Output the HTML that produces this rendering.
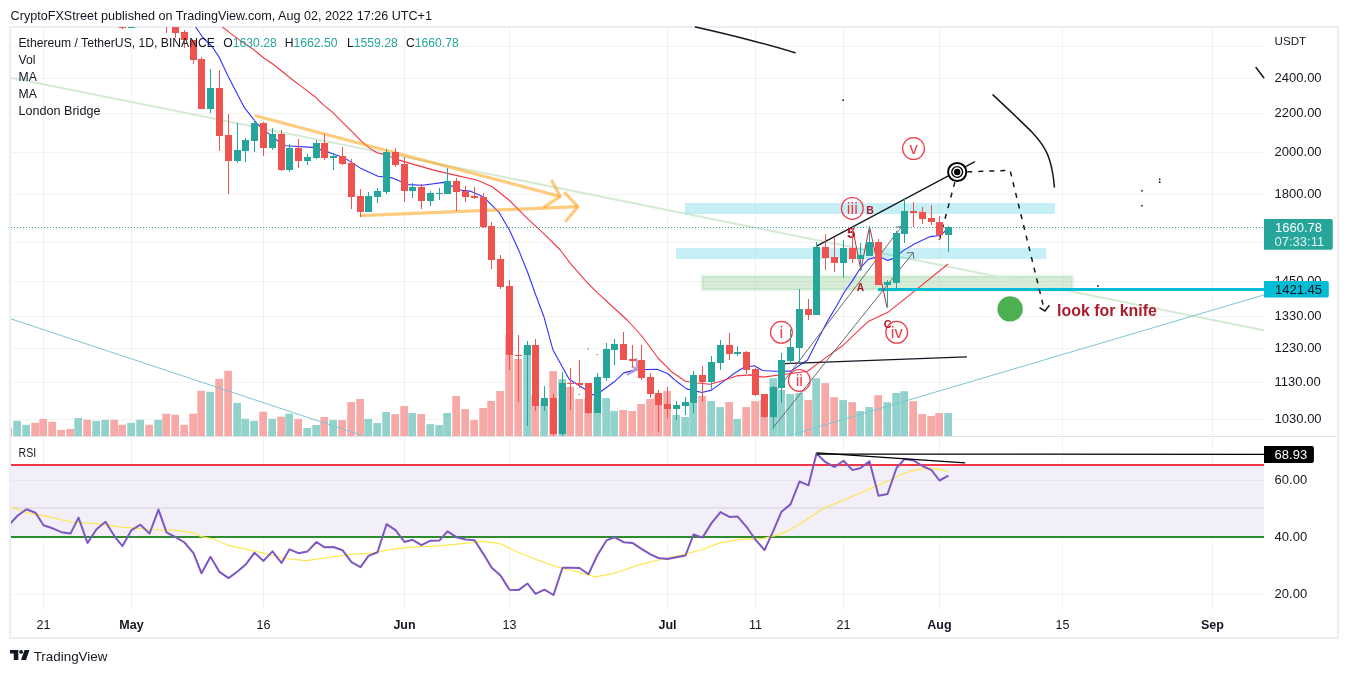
<!DOCTYPE html>
<html><head><meta charset="utf-8"><title>ETH/USDT chart</title><style>
html,body{margin:0;padding:0;background:#fff;width:1348px;height:673px;overflow:hidden}
svg{position:absolute;left:0;top:0;display:block;will-change:transform}
text{font-family:"Liberation Sans",sans-serif}
</style></head><body>
<svg width="1348" height="673" viewBox="0 0 1348 673">
<defs>
<clipPath id="main"><rect x="11" y="27" width="1253" height="409"/></clipPath>
<clipPath id="rsi"><rect x="11" y="437" width="1253" height="172"/></clipPath>
</defs>

<text x="10.6" y="20" font-size="12.6" fill="#131722" textLength="421.4" lengthAdjust="spacingAndGlyphs">CryptoFXStreet published on TradingView.com, Aug 02, 2022 17:26 UTC+1</text>
<rect x="10" y="27" width="1328" height="611" fill="none" stroke="#eceef2" stroke-width="2"/>
<g shape-rendering="crispEdges"><rect x="43" y="28" width="1" height="582" fill="rgba(42,46,57,0.06)"/><rect x="131" y="28" width="1" height="582" fill="rgba(42,46,57,0.06)"/><rect x="263" y="28" width="1" height="582" fill="rgba(42,46,57,0.06)"/><rect x="404" y="28" width="1" height="582" fill="rgba(42,46,57,0.06)"/><rect x="509" y="28" width="1" height="582" fill="rgba(42,46,57,0.06)"/><rect x="667" y="28" width="1" height="582" fill="rgba(42,46,57,0.06)"/><rect x="755" y="28" width="1" height="582" fill="rgba(42,46,57,0.06)"/><rect x="843" y="28" width="1" height="582" fill="rgba(42,46,57,0.06)"/><rect x="939" y="28" width="1" height="582" fill="rgba(42,46,57,0.06)"/><rect x="1062" y="28" width="1" height="582" fill="rgba(42,46,57,0.06)"/><rect x="1212" y="28" width="1" height="582" fill="rgba(42,46,57,0.06)"/><rect x="11" y="46" width="1253" height="1" fill="rgba(42,46,57,0.06)"/><rect x="11" y="78" width="1253" height="1" fill="rgba(42,46,57,0.06)"/><rect x="11" y="113" width="1253" height="1" fill="rgba(42,46,57,0.06)"/><rect x="11" y="152" width="1253" height="1" fill="rgba(42,46,57,0.06)"/><rect x="11" y="194" width="1253" height="1" fill="rgba(42,46,57,0.06)"/><rect x="11" y="242" width="1253" height="1" fill="rgba(42,46,57,0.06)"/><rect x="11" y="281" width="1253" height="1" fill="rgba(42,46,57,0.06)"/><rect x="11" y="316" width="1253" height="1" fill="rgba(42,46,57,0.06)"/><rect x="11" y="348" width="1253" height="1" fill="rgba(42,46,57,0.06)"/><rect x="11" y="382" width="1253" height="1" fill="rgba(42,46,57,0.06)"/><rect x="11" y="419" width="1253" height="1" fill="rgba(42,46,57,0.06)"/><rect x="11" y="480" width="1253" height="1" fill="rgba(42,46,57,0.06)"/><rect x="11" y="594" width="1253" height="1" fill="rgba(42,46,57,0.06)"/></g>
<rect x="11" y="436" width="1326" height="1" fill="#e1e3ec" shape-rendering="crispEdges"/>
<rect x="11" y="465" width="1253" height="72" fill="#f2eff9" shape-rendering="crispEdges"/>
<rect x="11" y="507" width="1253" height="1.8" fill="#e2dfe9"/>
<rect x="11" y="480" width="1253" height="1" fill="#e9e6f0" shape-rendering="crispEdges"/>
<g clip-path="url(#main)"><rect x="11.00" y="427.6" width="1.00" height="8.4" fill="#f7a9a7"/><rect x="13.30" y="420.8" width="7.70" height="15.2" fill="#92d2cc"/><rect x="22.30" y="424.8" width="7.70" height="11.2" fill="#92d2cc"/><rect x="31.30" y="422.8" width="7.70" height="13.2" fill="#f7a9a7"/><rect x="39.30" y="419.0" width="7.70" height="17.0" fill="#f7a9a7"/><rect x="48.30" y="421.8" width="7.70" height="14.2" fill="#f7a9a7"/><rect x="57.30" y="429.9" width="7.70" height="6.1" fill="#f7a9a7"/><rect x="66.30" y="428.9" width="7.70" height="7.1" fill="#f7a9a7"/><rect x="74.30" y="418.0" width="7.70" height="18.0" fill="#92d2cc"/><rect x="83.30" y="419.8" width="7.70" height="16.2" fill="#f7a9a7"/><rect x="92.30" y="420.8" width="7.70" height="15.2" fill="#92d2cc"/><rect x="101.30" y="419.8" width="7.70" height="16.2" fill="#92d2cc"/><rect x="110.30" y="419.8" width="7.70" height="16.2" fill="#f7a9a7"/><rect x="118.30" y="424.8" width="7.70" height="11.2" fill="#f7a9a7"/><rect x="127.30" y="422.8" width="7.70" height="13.2" fill="#92d2cc"/><rect x="136.30" y="419.8" width="7.70" height="16.2" fill="#92d2cc"/><rect x="145.30" y="424.8" width="7.70" height="11.2" fill="#f7a9a7"/><rect x="154.30" y="419.8" width="7.70" height="16.2" fill="#92d2cc"/><rect x="162.30" y="413.7" width="7.70" height="22.3" fill="#f7a9a7"/><rect x="171.30" y="414.7" width="7.70" height="21.3" fill="#f7a9a7"/><rect x="180.30" y="424.8" width="7.70" height="11.2" fill="#f7a9a7"/><rect x="189.30" y="413.7" width="7.70" height="22.3" fill="#f7a9a7"/><rect x="197.30" y="390.8" width="7.70" height="45.2" fill="#f7a9a7"/><rect x="206.30" y="391.8" width="7.70" height="44.2" fill="#92d2cc"/><rect x="215.30" y="378.9" width="7.70" height="57.1" fill="#f7a9a7"/><rect x="224.30" y="370.8" width="7.70" height="65.2" fill="#f7a9a7"/><rect x="233.30" y="402.9" width="7.70" height="33.1" fill="#92d2cc"/><rect x="241.30" y="418.8" width="7.70" height="17.2" fill="#92d2cc"/><rect x="250.30" y="420.8" width="7.70" height="15.2" fill="#92d2cc"/><rect x="259.30" y="411.7" width="7.70" height="24.3" fill="#f7a9a7"/><rect x="268.30" y="418.8" width="7.70" height="17.2" fill="#92d2cc"/><rect x="277.30" y="416.7" width="7.70" height="19.3" fill="#f7a9a7"/><rect x="285.30" y="413.7" width="7.70" height="22.3" fill="#92d2cc"/><rect x="294.30" y="419.0" width="7.70" height="17.0" fill="#f7a9a7"/><rect x="303.30" y="428.0" width="7.70" height="8.0" fill="#92d2cc"/><rect x="312.30" y="425.0" width="7.70" height="11.0" fill="#92d2cc"/><rect x="320.30" y="417.0" width="7.70" height="19.0" fill="#f7a9a7"/><rect x="329.30" y="420.0" width="7.70" height="16.0" fill="#92d2cc"/><rect x="338.30" y="420.1" width="7.70" height="15.9" fill="#f7a9a7"/><rect x="347.30" y="402.0" width="7.70" height="34.0" fill="#f7a9a7"/><rect x="356.30" y="399.0" width="7.70" height="37.0" fill="#f7a9a7"/><rect x="364.30" y="418.9" width="7.70" height="17.1" fill="#92d2cc"/><rect x="373.30" y="423.0" width="7.70" height="13.0" fill="#92d2cc"/><rect x="382.30" y="412.0" width="7.70" height="24.0" fill="#92d2cc"/><rect x="391.30" y="414.1" width="7.70" height="21.9" fill="#f7a9a7"/><rect x="400.30" y="406.1" width="7.70" height="29.9" fill="#f7a9a7"/><rect x="408.30" y="413.0" width="7.70" height="23.0" fill="#92d2cc"/><rect x="417.30" y="414.1" width="7.70" height="21.9" fill="#f7a9a7"/><rect x="426.30" y="424.2" width="7.70" height="11.8" fill="#92d2cc"/><rect x="435.30" y="425.1" width="7.70" height="10.9" fill="#92d2cc"/><rect x="443.30" y="413.0" width="7.70" height="23.0" fill="#92d2cc"/><rect x="452.30" y="396.0" width="7.70" height="40.0" fill="#f7a9a7"/><rect x="461.30" y="409.1" width="7.70" height="26.9" fill="#f7a9a7"/><rect x="470.30" y="420.1" width="7.70" height="15.9" fill="#f7a9a7"/><rect x="479.30" y="408.0" width="7.70" height="28.0" fill="#f7a9a7"/><rect x="487.30" y="401.0" width="7.70" height="35.0" fill="#f7a9a7"/><rect x="496.30" y="391.0" width="7.70" height="45.0" fill="#f7a9a7"/><rect x="505.30" y="334.3" width="7.70" height="101.7" fill="#f7a9a7"/><rect x="514.30" y="359.0" width="7.70" height="77.0" fill="#f7a9a7"/><rect x="523.30" y="348.2" width="7.70" height="87.8" fill="#92d2cc"/><rect x="531.30" y="395.1" width="7.70" height="40.9" fill="#f7a9a7"/><rect x="540.30" y="401.1" width="7.70" height="34.9" fill="#92d2cc"/><rect x="549.30" y="371.1" width="7.70" height="64.9" fill="#f7a9a7"/><rect x="558.30" y="379.1" width="7.70" height="56.9" fill="#92d2cc"/><rect x="566.30" y="387.0" width="7.70" height="49.0" fill="#f7a9a7"/><rect x="575.30" y="399.0" width="7.70" height="37.0" fill="#f7a9a7"/><rect x="584.30" y="399.0" width="7.70" height="37.0" fill="#f7a9a7"/><rect x="593.30" y="399.0" width="7.70" height="37.0" fill="#92d2cc"/><rect x="602.30" y="398.1" width="7.70" height="37.9" fill="#92d2cc"/><rect x="610.30" y="410.9" width="7.70" height="25.1" fill="#92d2cc"/><rect x="619.30" y="410.0" width="7.70" height="26.0" fill="#f7a9a7"/><rect x="628.30" y="411.0" width="7.70" height="25.0" fill="#f7a9a7"/><rect x="637.30" y="404.1" width="7.70" height="31.9" fill="#f7a9a7"/><rect x="646.30" y="399.0" width="7.70" height="37.0" fill="#f7a9a7"/><rect x="654.30" y="395.0" width="7.70" height="41.0" fill="#f7a9a7"/><rect x="663.30" y="391.0" width="7.70" height="45.0" fill="#f7a9a7"/><rect x="672.30" y="415.0" width="7.70" height="21.0" fill="#92d2cc"/><rect x="681.30" y="417.0" width="7.70" height="19.0" fill="#92d2cc"/><rect x="689.30" y="403.1" width="7.70" height="32.9" fill="#92d2cc"/><rect x="698.30" y="396.0" width="7.70" height="40.0" fill="#f7a9a7"/><rect x="707.30" y="401.1" width="7.70" height="34.9" fill="#92d2cc"/><rect x="716.30" y="407.1" width="7.70" height="28.9" fill="#92d2cc"/><rect x="725.30" y="402.0" width="7.70" height="34.0" fill="#f7a9a7"/><rect x="733.30" y="418.9" width="7.70" height="17.1" fill="#92d2cc"/><rect x="742.30" y="407.1" width="7.70" height="28.9" fill="#f7a9a7"/><rect x="751.30" y="401.1" width="7.70" height="34.9" fill="#f7a9a7"/><rect x="760.30" y="400.0" width="7.70" height="36.0" fill="#f7a9a7"/><rect x="769.30" y="378.2" width="7.70" height="57.8" fill="#92d2cc"/><rect x="777.30" y="390.0" width="7.70" height="46.0" fill="#92d2cc"/><rect x="786.30" y="394.0" width="7.70" height="42.0" fill="#92d2cc"/><rect x="795.30" y="393.0" width="7.70" height="43.0" fill="#92d2cc"/><rect x="804.30" y="400.1" width="7.70" height="35.9" fill="#f7a9a7"/><rect x="812.30" y="378.2" width="7.70" height="57.8" fill="#92d2cc"/><rect x="821.30" y="383.1" width="7.70" height="52.9" fill="#f7a9a7"/><rect x="830.30" y="397.2" width="7.70" height="38.8" fill="#f7a9a7"/><rect x="839.30" y="400.1" width="7.70" height="35.9" fill="#92d2cc"/><rect x="848.30" y="402.2" width="7.70" height="33.8" fill="#f7a9a7"/><rect x="856.30" y="411.1" width="7.70" height="24.9" fill="#92d2cc"/><rect x="865.30" y="407.1" width="7.70" height="28.9" fill="#92d2cc"/><rect x="874.30" y="395.2" width="7.70" height="40.8" fill="#f7a9a7"/><rect x="883.30" y="402.2" width="7.70" height="33.8" fill="#92d2cc"/><rect x="892.30" y="393.0" width="7.70" height="43.0" fill="#92d2cc"/><rect x="900.30" y="391.2" width="7.70" height="44.8" fill="#92d2cc"/><rect x="909.30" y="401.2" width="7.70" height="34.8" fill="#f7a9a7"/><rect x="918.30" y="414.1" width="7.70" height="21.9" fill="#f7a9a7"/><rect x="927.30" y="416.0" width="7.70" height="20.0" fill="#f7a9a7"/><rect x="935.30" y="413.0" width="7.70" height="23.0" fill="#f7a9a7"/><rect x="944.30" y="413.0" width="7.70" height="23.0" fill="#92d2cc"/></g>
<g clip-path="url(#main)">
<rect x="700" y="274" width="374.6" height="2" fill="rgba(76,175,80,0.07)"/><rect x="700" y="290" width="374.6" height="2" fill="rgba(76,175,80,0.07)"/><rect x="700" y="276" width="2" height="14" fill="rgba(76,175,80,0.07)"/><rect x="1072.6" y="276" width="2" height="14" fill="rgba(76,175,80,0.07)"/>
<rect x="702" y="276" width="370.6" height="2" fill="rgba(76,175,80,0.31)"/><rect x="702" y="288" width="370.6" height="2" fill="rgba(76,175,80,0.31)"/><rect x="702" y="278" width="2" height="10" fill="rgba(76,175,80,0.31)"/><rect x="1070.6" y="278" width="2" height="10" fill="rgba(76,175,80,0.31)"/>
<rect x="704" y="278" width="366.6" height="10" fill="rgba(76,175,80,0.23)"/>
<line x1="10" y1="77.5" x2="1264" y2="330.3" stroke="#d3ead3" stroke-width="2"/>
<line x1="10.4" y1="318.7" x2="362.3" y2="435.5" stroke="#7cc6d0" stroke-width="1"/>
<line x1="788.2" y1="435.7" x2="1264" y2="294.9" stroke="#7cc6d0" stroke-width="1"/>
<rect x="685" y="203" width="370" height="11" fill="rgba(0,188,212,0.22)"/>
<rect x="676" y="248" width="370" height="11" fill="rgba(0,188,212,0.22)"/>
</g>
<g clip-path="url(#main)" fill="none" stroke-linejoin="round">
<polyline points="195.7,27.0 202.4,37.0 212.4,47.0 219.1,57.1 228.0,76.0 241.4,102.0 244.6,107.9 256.9,123.5 266.9,132.4 276.9,140.2 285.8,145.8 312.6,147.4 329.3,152.4 344.5,157.9 360.1,167.9 377.9,176.3 392.4,177.9 408.0,184.6 422.5,185.2 443.7,182.4 461.5,190.2 470.0,191.1 480.0,195.2 485.9,199.3 499.3,212.7 509.7,230.5 518.6,249.9 527.6,272.2 535.0,293.0 543.9,316.7 552.8,349.4 561.7,365.8 569.2,379.2 584.6,389.0 592.9,394.9 601.3,391.3 614.3,381.8 623.8,372.9 635.5,369.9 656.9,369.3 667.5,373.5 677.1,381.8 686.6,388.9 702.0,392.5 711.5,390.1 724.6,380.6 734.1,373.5 743.6,367.5 754.3,365.8 762.6,370.5 775.5,371.3 790.9,371.1 807.5,360.0 821.8,332.1 826.5,322.9 836.3,306.5 844.5,291.8 852.7,280.4 860.9,267.3 868.5,259.2 875.6,257.4 882.7,258.0 887.5,260.4 893.4,258.6 902.9,250.9 914.8,243.8 930.3,236.6 939.8,235.5 945.7,230.7 948.3,229.0" stroke="#3232ff" stroke-width="1.1"/>
<polyline points="222.4,27.0 230.0,32.9 241.6,41.6 253.2,49.3 263.8,58.0 272.5,63.8 282.2,71.5 291.8,79.3 299.6,85.1 307.3,90.9 315.0,96.7 322.8,104.4 332.4,112.1 342.1,121.8 351.7,131.4 361.4,141.1 369.1,147.9 376.9,152.7 384.6,154.6 399.1,160.1 433.6,170.1 452.6,174.6 476.7,180.0 492.3,186.7 509.0,200.0 525.7,216.8 542.4,232.4 560.3,250.0 570.3,263.4 587.0,282.3 597.0,292.3 620.0,313.5 627.1,320.0 641.4,335.5 658.0,358.0 672.3,372.3 685.4,381.2 697.3,383.0 710.3,384.2 724.6,380.0 736.5,375.9 750.8,374.9 762.6,377.1 789.7,373.7 807.5,371.3 821.8,360.6 843.2,345.2 868.2,321.4 888.4,311.9 902.6,300.6 948.1,264.0" stroke="#f23645" stroke-width="1.1"/>
</g>
<g fill="none" stroke="rgba(255,152,0,0.5)" stroke-width="3.2" stroke-linecap="butt" stroke-linejoin="round">
<line x1="254.5" y1="115.5" x2="560.3" y2="196.5"/>
<polyline points="551.4,180 560.3,196.5 543.6,207.3"/>
<line x1="360.2" y1="215.6" x2="577.9" y2="206.7"/>
<polyline points="564.3,192.2 577.9,206.7 565.3,221.8"/>
</g>
<line x1="11" y1="227.5" x2="1264" y2="227.5" stroke="#26a69a" stroke-width="1" stroke-dasharray="1 2"/>
<rect x="878" y="288" width="386" height="3" fill="#00bcd4"/>
<g fill="none" stroke="#131722" stroke-width="1.5" stroke-linecap="round">
<path d="M695.4,27 Q727,34 755,41.4 T795,52.8"/>
<path d="M993,94.9 L1013.2,113.9 L1031,131.1 Q1040,141 1044.1,147.8 Q1052,160 1054.4,186.9"/>
<line x1="1256" y1="67.5" x2="1263.8" y2="77.8"/>
<line x1="784.6" y1="363.6" x2="966.5" y2="356.9" stroke-width="1.3"/>
<line x1="817.1" y1="245.9" x2="974.5" y2="161.9" stroke-width="1.25"/>
</g>
<g fill="none" stroke="#131722" stroke-width="1.5" stroke-dasharray="5 6">
<polyline points="967.3,171.8 1010.1,170.4 1044.4,310.2"/>
<line x1="954.9" y1="182.1" x2="939.3" y2="240"/>
</g>
<polyline points="1039.5,307.7 1044.9,311 1049.4,305.3" fill="none" stroke="#131722" stroke-width="1.5"/>
<g><circle cx="957.2" cy="172" r="9.1" fill="#fff" stroke="#000" stroke-width="2"/><circle cx="957.2" cy="172" r="5.4" fill="none" stroke="#000" stroke-width="1.4"/><circle cx="957.2" cy="172" r="3.2" fill="#000"/></g>
<g fill="none" stroke="#6b6b6b" stroke-width="1">
<line x1="777.3" y1="389.7" x2="901.7" y2="226.4"/>
<line x1="772.8" y1="428.1" x2="913.2" y2="252.6"/>
<polyline points="906.6,252.9 913.2,252.6 913.8,258.6"/>
<polyline points="895.6,227.4 901.7,226.4 902.2,232.6"/>
</g>
<polyline points="852.5,228 860.9,269.8 869.5,226.4 887,307.3" fill="none" stroke="#b4313f" stroke-width="1"/>
<g fill="none" stroke="#b39ddb" stroke-width="2" stroke-linecap="round"><line x1="627.5" y1="374.5" x2="637.5" y2="369"/><polyline points="632.5,367 637.5,369 636.5,359"/></g>
<circle cx="913.5" cy="148.6" r="10.9" fill="none" stroke="#f23645" stroke-width="1.2"/><text x="913.5" y="154.0" font-size="16.5" fill="#f23645" text-anchor="middle">v</text>
<circle cx="852.3" cy="208.4" r="10.9" fill="none" stroke="#f23645" stroke-width="1.2"/><text x="852.3" y="213.8" font-size="16.5" fill="#f23645" text-anchor="middle">iii</text>
<circle cx="781.4" cy="332.3" r="10.9" fill="none" stroke="#f23645" stroke-width="1.2"/><text x="781.4" y="337.7" font-size="16.5" fill="#f23645" text-anchor="middle">i</text>
<circle cx="799.3" cy="380.4" r="10.9" fill="none" stroke="#f23645" stroke-width="1.2"/><text x="799.3" y="385.79999999999995" font-size="16.5" fill="#f23645" text-anchor="middle">ii</text>
<circle cx="896.7" cy="332.3" r="10.9" fill="none" stroke="#f23645" stroke-width="1.2"/><text x="896.7" y="337.7" font-size="16.5" fill="#f23645" text-anchor="middle">iv</text>
<g font-weight="bold" fill="#ad1a2c">
<text x="866.3" y="214" font-size="10.5">B</text>
<text x="846.9" y="237.8" font-size="15">5</text>
<text x="856.8" y="291" font-size="10.2">A</text>
<text x="883.8" y="328" font-size="10.8">C</text>
</g>
<circle cx="1010.1" cy="308.9" r="12.7" fill="#4caf50"/>
<text x="1057.1" y="315.5" font-size="15.9" font-weight="bold" fill="#ad1a2c">look for knife</text>
<circle cx="1097.9" cy="286" r="0.9" fill="#131722"/>
<circle cx="843.1" cy="100.2" r="0.9" fill="#131722"/>
<circle cx="1141.9" cy="190.8" r="0.9" fill="#131722"/>
<circle cx="1141.9" cy="205.7" r="0.9" fill="#131722"/>
<circle cx="1159.7" cy="179.3" r="0.9" fill="#131722"/>
<circle cx="1159.7" cy="182.2" r="0.9" fill="#131722"/>
<circle cx="588.2" cy="348.9" r="0.6" fill="#444"/>
<circle cx="597.1" cy="354.5" r="0.6" fill="#444"/>
<circle cx="579.3" cy="394.3" r="0.6" fill="#444"/>
<g shape-rendering="crispEdges" clip-path="url(#main)"><rect x="122" y="27" width="1" height="2" fill="#ef5350"/><rect x="119" y="27" width="7" height="1" fill="#ef5350"/><rect x="131" y="27" width="1" height="1" fill="#26a69a"/><rect x="128" y="27" width="7" height="1" fill="#26a69a"/><rect x="166" y="27" width="1" height="6" fill="#ef5350"/><rect x="175" y="27" width="1" height="11" fill="#ef5350"/><rect x="172" y="27" width="7" height="6" fill="#ef5350"/><rect x="184" y="30" width="1" height="18" fill="#ef5350"/><rect x="181" y="32" width="7" height="8" fill="#ef5350"/><rect x="193" y="40" width="1" height="24" fill="#ef5350"/><rect x="190" y="40" width="7" height="20" fill="#ef5350"/><rect x="201" y="57" width="1" height="52" fill="#ef5350"/><rect x="198" y="59" width="7" height="50" fill="#ef5350"/><rect x="210" y="69" width="1" height="44" fill="#26a69a"/><rect x="207" y="88" width="7" height="21" fill="#26a69a"/><rect x="219" y="70" width="1" height="81" fill="#ef5350"/><rect x="216" y="88" width="7" height="48" fill="#ef5350"/><rect x="228" y="114" width="1" height="80" fill="#ef5350"/><rect x="225" y="135" width="7" height="26" fill="#ef5350"/><rect x="237" y="123" width="1" height="40" fill="#26a69a"/><rect x="234" y="150" width="7" height="11" fill="#26a69a"/><rect x="245" y="138" width="1" height="24" fill="#26a69a"/><rect x="242" y="140" width="7" height="11" fill="#26a69a"/><rect x="254" y="120" width="1" height="32" fill="#26a69a"/><rect x="251" y="123" width="7" height="18" fill="#26a69a"/><rect x="263" y="122" width="1" height="34" fill="#ef5350"/><rect x="260" y="123" width="7" height="25" fill="#ef5350"/><rect x="272" y="128" width="1" height="22" fill="#26a69a"/><rect x="269" y="134" width="7" height="14" fill="#26a69a"/><rect x="281" y="130" width="1" height="41" fill="#ef5350"/><rect x="278" y="134" width="7" height="36" fill="#ef5350"/><rect x="289" y="144" width="1" height="28" fill="#26a69a"/><rect x="286" y="148" width="7" height="22" fill="#26a69a"/><rect x="298" y="139" width="1" height="29" fill="#ef5350"/><rect x="295" y="148" width="7" height="13" fill="#ef5350"/><rect x="307" y="154" width="1" height="11" fill="#26a69a"/><rect x="304" y="157" width="7" height="4" fill="#26a69a"/><rect x="316" y="140" width="1" height="19" fill="#26a69a"/><rect x="313" y="143" width="7" height="15" fill="#26a69a"/><rect x="324" y="134" width="1" height="26" fill="#ef5350"/><rect x="321" y="143" width="7" height="15" fill="#ef5350"/><rect x="333" y="153" width="1" height="17" fill="#26a69a"/><rect x="330" y="156" width="7" height="2" fill="#26a69a"/><rect x="342" y="147" width="1" height="18" fill="#ef5350"/><rect x="339" y="156" width="7" height="8" fill="#ef5350"/><rect x="351" y="159" width="1" height="50" fill="#ef5350"/><rect x="348" y="163" width="7" height="34" fill="#ef5350"/><rect x="360" y="189" width="1" height="28" fill="#ef5350"/><rect x="357" y="196" width="7" height="16" fill="#ef5350"/><rect x="368" y="192" width="1" height="20" fill="#26a69a"/><rect x="365" y="196" width="7" height="16" fill="#26a69a"/><rect x="377" y="188" width="1" height="15" fill="#26a69a"/><rect x="374" y="191" width="7" height="6" fill="#26a69a"/><rect x="386" y="149" width="1" height="45" fill="#26a69a"/><rect x="383" y="152" width="7" height="40" fill="#26a69a"/><rect x="395" y="148" width="1" height="19" fill="#ef5350"/><rect x="392" y="152" width="7" height="13" fill="#ef5350"/><rect x="404" y="157" width="1" height="45" fill="#ef5350"/><rect x="401" y="164" width="7" height="27" fill="#ef5350"/><rect x="412" y="183" width="1" height="15" fill="#26a69a"/><rect x="409" y="187" width="7" height="4" fill="#26a69a"/><rect x="421" y="184" width="1" height="25" fill="#ef5350"/><rect x="418" y="187" width="7" height="14" fill="#ef5350"/><rect x="430" y="191" width="1" height="15" fill="#26a69a"/><rect x="427" y="193" width="7" height="8" fill="#26a69a"/><rect x="439" y="188" width="1" height="12" fill="#26a69a"/><rect x="436" y="193" width="7" height="1" fill="#26a69a"/><rect x="447" y="168" width="1" height="26" fill="#26a69a"/><rect x="444" y="181" width="7" height="13" fill="#26a69a"/><rect x="456" y="178" width="1" height="33" fill="#ef5350"/><rect x="453" y="181" width="7" height="11" fill="#ef5350"/><rect x="465" y="186" width="1" height="16" fill="#ef5350"/><rect x="462" y="191" width="7" height="6" fill="#ef5350"/><rect x="474" y="187" width="1" height="12" fill="#ef5350"/><rect x="471" y="196" width="7" height="2" fill="#ef5350"/><rect x="483" y="193" width="1" height="35" fill="#ef5350"/><rect x="480" y="197" width="7" height="30" fill="#ef5350"/><rect x="491" y="222" width="1" height="47" fill="#ef5350"/><rect x="488" y="226" width="7" height="34" fill="#ef5350"/><rect x="500" y="255" width="1" height="34" fill="#ef5350"/><rect x="497" y="259" width="7" height="28" fill="#ef5350"/><rect x="509" y="280" width="1" height="90" fill="#ef5350"/><rect x="506" y="286" width="7" height="69" fill="#ef5350"/><rect x="518" y="335" width="1" height="67" fill="#ef5350"/><rect x="515" y="355" width="7" height="1" fill="#ef5350"/><rect x="527" y="341" width="1" height="85" fill="#26a69a"/><rect x="524" y="345" width="7" height="10" fill="#26a69a"/><rect x="535" y="339" width="1" height="72" fill="#ef5350"/><rect x="532" y="345" width="7" height="61" fill="#ef5350"/><rect x="544" y="386" width="1" height="25" fill="#26a69a"/><rect x="541" y="398" width="7" height="8" fill="#26a69a"/><rect x="553" y="394" width="1" height="42" fill="#ef5350"/><rect x="550" y="398" width="7" height="36" fill="#ef5350"/><rect x="562" y="372" width="1" height="64" fill="#26a69a"/><rect x="559" y="383" width="7" height="51" fill="#26a69a"/><rect x="570" y="368" width="1" height="42" fill="#ef5350"/><rect x="567" y="383" width="7" height="1" fill="#ef5350"/><rect x="579" y="360" width="1" height="28" fill="#ef5350"/><rect x="576" y="383" width="7" height="2" fill="#ef5350"/><rect x="588" y="383" width="1" height="31" fill="#ef5350"/><rect x="585" y="383" width="7" height="30" fill="#ef5350"/><rect x="597" y="373" width="1" height="40" fill="#26a69a"/><rect x="594" y="377" width="7" height="36" fill="#26a69a"/><rect x="606" y="343" width="1" height="38" fill="#26a69a"/><rect x="603" y="349" width="7" height="29" fill="#26a69a"/><rect x="614" y="339" width="1" height="26" fill="#26a69a"/><rect x="611" y="344" width="7" height="6" fill="#26a69a"/><rect x="623" y="332" width="1" height="28" fill="#ef5350"/><rect x="620" y="344" width="7" height="16" fill="#ef5350"/><rect x="632" y="345" width="1" height="22" fill="#ef5350"/><rect x="629" y="359" width="7" height="2" fill="#ef5350"/><rect x="641" y="345" width="1" height="35" fill="#ef5350"/><rect x="638" y="360" width="7" height="18" fill="#ef5350"/><rect x="650" y="373" width="1" height="25" fill="#ef5350"/><rect x="647" y="377" width="7" height="17" fill="#ef5350"/><rect x="658" y="390" width="1" height="42" fill="#ef5350"/><rect x="655" y="393" width="7" height="12" fill="#ef5350"/><rect x="667" y="387" width="1" height="31" fill="#ef5350"/><rect x="664" y="404" width="7" height="5" fill="#ef5350"/><rect x="676" y="401" width="1" height="19" fill="#26a69a"/><rect x="673" y="405" width="7" height="4" fill="#26a69a"/><rect x="685" y="397" width="1" height="18" fill="#26a69a"/><rect x="682" y="402" width="7" height="4" fill="#26a69a"/><rect x="693" y="371" width="1" height="42" fill="#26a69a"/><rect x="690" y="375" width="7" height="28" fill="#26a69a"/><rect x="702" y="366" width="1" height="36" fill="#ef5350"/><rect x="699" y="375" width="7" height="7" fill="#ef5350"/><rect x="711" y="356" width="1" height="33" fill="#26a69a"/><rect x="708" y="362" width="7" height="20" fill="#26a69a"/><rect x="720" y="340" width="1" height="30" fill="#26a69a"/><rect x="717" y="345" width="7" height="18" fill="#26a69a"/><rect x="729" y="333" width="1" height="27" fill="#ef5350"/><rect x="726" y="345" width="7" height="9" fill="#ef5350"/><rect x="737" y="346" width="1" height="10" fill="#26a69a"/><rect x="734" y="352" width="7" height="2" fill="#26a69a"/><rect x="746" y="351" width="1" height="23" fill="#ef5350"/><rect x="743" y="352" width="7" height="18" fill="#ef5350"/><rect x="755" y="368" width="1" height="28" fill="#ef5350"/><rect x="752" y="369" width="7" height="26" fill="#ef5350"/><rect x="764" y="394" width="1" height="24" fill="#ef5350"/><rect x="761" y="394" width="7" height="23" fill="#ef5350"/><rect x="773" y="386" width="1" height="43" fill="#26a69a"/><rect x="770" y="387" width="7" height="30" fill="#26a69a"/><rect x="781" y="353" width="1" height="50" fill="#26a69a"/><rect x="778" y="360" width="7" height="28" fill="#26a69a"/><rect x="790" y="329" width="1" height="35" fill="#26a69a"/><rect x="787" y="347" width="7" height="14" fill="#26a69a"/><rect x="799" y="289" width="1" height="73" fill="#26a69a"/><rect x="796" y="309" width="7" height="39" fill="#26a69a"/><rect x="808" y="299" width="1" height="21" fill="#ef5350"/><rect x="805" y="309" width="7" height="6" fill="#ef5350"/><rect x="816" y="242" width="1" height="73" fill="#26a69a"/><rect x="813" y="247" width="7" height="68" fill="#26a69a"/><rect x="825" y="234" width="1" height="36" fill="#ef5350"/><rect x="822" y="247" width="7" height="11" fill="#ef5350"/><rect x="834" y="237" width="1" height="35" fill="#ef5350"/><rect x="831" y="257" width="7" height="6" fill="#ef5350"/><rect x="843" y="240" width="1" height="38" fill="#26a69a"/><rect x="840" y="248" width="7" height="15" fill="#26a69a"/><rect x="852" y="227" width="1" height="36" fill="#ef5350"/><rect x="849" y="248" width="7" height="11" fill="#ef5350"/><rect x="860" y="243" width="1" height="28" fill="#26a69a"/><rect x="857" y="255" width="7" height="4" fill="#26a69a"/><rect x="869" y="226" width="1" height="30" fill="#26a69a"/><rect x="866" y="242" width="7" height="14" fill="#26a69a"/><rect x="878" y="239" width="1" height="46" fill="#ef5350"/><rect x="875" y="242" width="7" height="43" fill="#ef5350"/><rect x="887" y="280" width="1" height="28" fill="#26a69a"/><rect x="884" y="282" width="7" height="3" fill="#26a69a"/><rect x="896" y="231" width="1" height="59" fill="#26a69a"/><rect x="893" y="233" width="7" height="50" fill="#26a69a"/><rect x="904" y="198" width="1" height="45" fill="#26a69a"/><rect x="901" y="211" width="7" height="23" fill="#26a69a"/><rect x="913" y="202" width="1" height="25" fill="#ef5350"/><rect x="910" y="211" width="7" height="2" fill="#ef5350"/><rect x="922" y="207" width="1" height="17" fill="#ef5350"/><rect x="919" y="212" width="7" height="7" fill="#ef5350"/><rect x="931" y="205" width="1" height="20" fill="#ef5350"/><rect x="928" y="218" width="7" height="4" fill="#ef5350"/><rect x="939" y="216" width="1" height="24" fill="#ef5350"/><rect x="936" y="222" width="7" height="13" fill="#ef5350"/><rect x="948" y="226" width="1" height="26" fill="#26a69a"/><rect x="945" y="227" width="7" height="8" fill="#26a69a"/></g>
<g font-size="12.2" fill="#131722">
<text x="18.5" y="47" textLength="196.3" lengthAdjust="spacingAndGlyphs">Ethereum / TetherUS, 1D, BINANCE</text>
<text x="223.3" y="47">O<tspan fill="#26a69a">1630.28</tspan></text>
<text x="284.7" y="47">H<tspan fill="#26a69a">1662.50</tspan></text>
<text x="346.9" y="47">L<tspan fill="#26a69a">1559.28</tspan></text>
<text x="405.9" y="47">C<tspan fill="#26a69a">1660.78</tspan></text>
<text x="18.5" y="64">Vol</text>
<text x="18.5" y="81">MA</text>
<text x="18.5" y="98">MA</text>
<text x="18.5" y="115" font-size="12.6" textLength="81.9" lengthAdjust="spacingAndGlyphs">London Bridge</text>
</g>
<g font-size="13" fill="#131722">
<text x="1274.6" y="45" font-size="11.6">USDT</text>
<text x="1274.6" y="82.2">2400.00</text>
<text x="1274.6" y="117.2">2200.00</text>
<text x="1274.6" y="156.2">2000.00</text>
<text x="1274.6" y="198.2">1800.00</text>
<text x="1274.6" y="285.2">1450.00</text>
<text x="1274.6" y="320.2">1330.00</text>
<text x="1274.6" y="352.2">1230.00</text>
<text x="1274.6" y="386.2">1130.00</text>
<text x="1274.6" y="423.2">1030.00</text>
<text x="1274.6" y="484.4">60.00</text>
<text x="1274.6" y="541.4">40.00</text>
<text x="1274.6" y="598.4">20.00</text>
</g>
<path d="M1264,219 H1330.8 Q1332.8,219 1332.8,221 V247.7 Q1332.8,249.7 1330.8,249.7 H1264 Z" fill="#26a69a"/>
<text x="1275" y="232" font-size="13" fill="#fff">1660.78</text>
<text x="1274.5" y="246" font-size="13" fill="#e6f4f3">07:33:11</text>
<path d="M1264,281 H1326.8 Q1328.8,281 1328.8,283 V295.6 Q1328.8,297.6 1326.8,297.6 H1264 Z" fill="#00bcd4"/>
<text x="1275" y="294" font-size="13" fill="#131722">1421.45</text>
<g clip-path="url(#rsi)">
<rect x="11" y="464" width="1253" height="2" fill="#f23645"/>
<rect x="11" y="536" width="1253" height="2" fill="#2e8b2e"/>
<polyline points="10.0,506.4 26.7,512.8 44.5,515.8 71.2,522.0 97.9,523.8 124.6,527.4 151.3,529.5 178.0,530.6 192.3,532.7 201.2,536.6 213.6,539.0 227.9,545.2 240.0,547.9 263.8,553.2 283.4,558.5 306.6,560.7 324.4,558.0 351.0,554.4 372.4,553.2 390.2,549.6 408.0,547.3 434.7,546.1 460.0,543.8 481.4,541.3 499.2,543.4 517.0,551.8 536.6,559.8 556.1,566.6 573.9,571.0 595.3,576.9 613.1,573.7 638.0,565.1 664.7,558.5 684.3,554.4 702.5,549.5 719.1,543.2 739.9,539.3 762.7,538.7 777.2,535.1 789.7,530.0 806.3,520.0 823.0,508.5 843.7,500.2 860.3,493.0 872.8,487.4 889.4,480.5 901.9,474.3 914.3,470.1 928.9,468.0 939.3,469.7 947.6,471.2" fill="none" stroke="#fde74c" stroke-width="1.2"/>
<polyline points="10.0,523.8 17.5,515.8 26.5,509.2 35.5,512.8 43.5,525.2 52.5,528.3 61.5,532.2 70.5,533.6 78.5,517.6 87.5,543.0 96.5,529.2 105.5,521.7 114.5,536.3 122.5,546.1 131.5,530.1 140.5,524.7 149.5,533.6 158.5,509.6 166.5,532.4 175.5,537.2 184.5,542.5 193.5,553.2 201.5,573.3 210.5,556.8 219.5,571.9 228.5,578.1 237.5,571.5 245.5,564.8 254.5,552.7 263.5,560.9 272.5,551.4 281.5,563.0 289.5,549.3 298.5,553.2 307.5,551.4 316.5,542.0 324.5,547.3 333.5,547.0 342.5,550.2 351.5,562.1 360.5,567.1 368.5,555.9 377.5,552.3 386.5,524.2 395.5,530.1 404.5,542.0 412.5,539.8 421.5,545.2 430.5,540.7 439.5,540.4 447.5,531.3 456.5,537.2 465.5,539.5 474.5,540.2 483.5,554.1 491.5,567.4 500.5,575.5 509.5,589.7 518.5,590.1 527.5,583.5 535.5,593.8 544.5,589.7 553.5,595.0 562.5,567.8 570.5,567.8 579.5,568.0 588.5,574.2 597.5,555.0 606.5,540.4 614.5,537.2 623.5,542.2 632.5,542.9 641.5,548.8 650.5,554.4 658.5,558.0 667.5,559.1 676.5,557.3 685.5,555.5 693.5,534.5 702.5,537.6 711.5,523.1 720.5,512.1 729.5,516.9 737.5,516.4 746.5,526.8 755.5,539.7 764.5,550.1 773.5,530.4 781.5,511.7 790.5,504.4 799.5,481.5 808.5,485.3 816.5,453.5 825.5,462.2 834.5,467.0 843.5,460.8 852.5,470.1 860.5,468.0 869.5,461.4 878.5,495.7 887.5,494.0 896.5,468.0 904.5,459.1 913.5,460.4 922.5,466.0 931.5,470.1 939.5,480.5 948.5,475.7" fill="none" stroke="#7e57c2" stroke-width="2" stroke-linejoin="round"/>
<line x1="816.7" y1="454.1" x2="1264" y2="454.3" stroke="#000" stroke-width="1.2"/>
<line x1="816.7" y1="452.9" x2="965.2" y2="462.8" stroke="#000" stroke-width="1.2"/>
</g>
<path d="M1264,446.1 H1311.9 Q1313.9,446.1 1313.9,448.1 V460.9 Q1313.9,462.9 1311.9,462.9 H1264 Z" fill="#000"/>
<text x="1274.6" y="459" font-size="13" fill="#fff">68.93</text>
<text x="18.6" y="457" font-size="12.3" fill="#131722" textLength="17.6" lengthAdjust="spacingAndGlyphs">RSI</text>
<g font-size="12.5" fill="#131722" text-anchor="middle">
<text x="43.5" y="629">21</text>
<text x="131.5" y="629" font-weight="bold">May</text>
<text x="263.5" y="629">16</text>
<text x="404.5" y="629" font-weight="bold">Jun</text>
<text x="509.5" y="629">13</text>
<text x="667.5" y="629" font-weight="bold">Jul</text>
<text x="755.5" y="629">11</text>
<text x="843.5" y="629">21</text>
<text x="939.5" y="629" font-weight="bold">Aug</text>
<text x="1062.5" y="629">15</text>
<text x="1212.5" y="629" font-weight="bold">Sep</text>
</g>
<g fill="#131722"><path d="M10,650 H18.3 V660 H13.8 V653.6 H10 Z"/><circle cx="21.1" cy="651.9" r="1.9"/><path d="M24.5,650 H29.5 L26,660 H21 Z"/></g>
<text x="33.7" y="661" font-size="13.4" fill="#131722">TradingView</text>
</svg>
</body></html>
